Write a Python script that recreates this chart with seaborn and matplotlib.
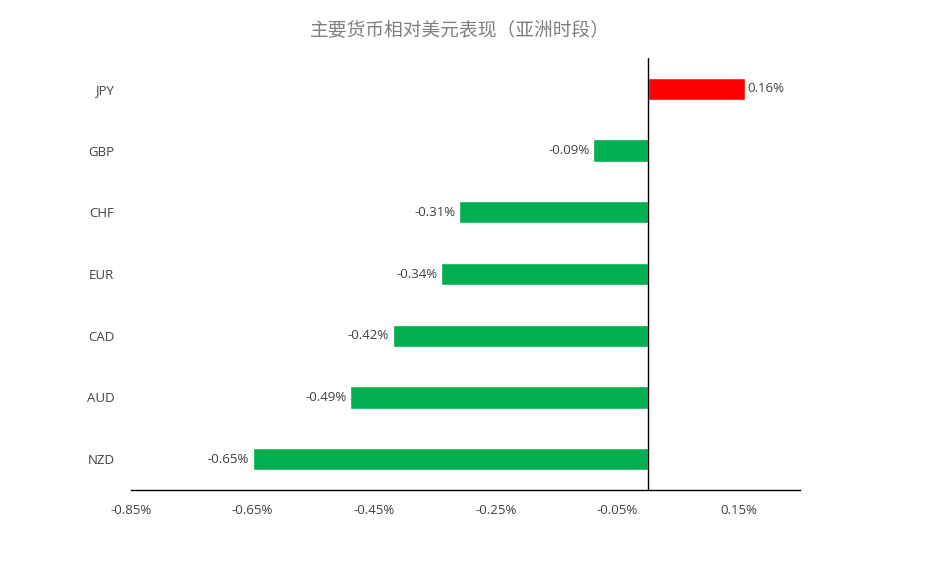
import matplotlib
matplotlib.use('Agg')
import matplotlib.pyplot as plt
import seaborn as sns
import pandas as pd

# currency performance vs USD (Asia session)
currencies = ['JPY', 'GBP', 'CHF', 'EUR', 'CAD', 'AUD', 'NZD']
changes = [0.16, -0.09, -0.31, -0.34, -0.42, -0.49, -0.65]
xticks = [-0.85, -0.65, -0.45, -0.25, -0.05, 0.15]
title = '主要货币相对美元表现（亚洲时段）'

sns.set_style('white')
plt.rcParams['font.family'] = ['Open Sans', 'Noto Sans CJK SC', 'DejaVu Sans']

df = pd.DataFrame({'cur': currencies, 'chg': changes})
df['sign'] = ['up' if v > 0 else 'down' for v in changes]

fig = plt.figure(figsize=(9.28, 5.69), dpi=100)
ax = fig.add_axes([131/928, 1-490/569, (800-131)/928, (490-58)/569])

sns.barplot(data=df, x='chg', y='cur', hue='sign', orient='h',
            palette={'up': '#FF0000', 'down': '#00B050'}, width=0.36,
            dodge=False, legend=False, ax=ax, saturation=1)

ax.set_xlim(-0.85, 0.25)
ax.set_ylim(6.5, -0.5)
ax.axvline(0, color='black', lw=1)

for i, v in enumerate(changes):
    lab = '%.2f%%' % v
    if v >= 0:
        ax.text(v + 0.003, i, lab, va='center', ha='left', fontsize=9.5, color='#404040')
    else:
        ax.text(v - 0.006, i, lab, va='center', ha='right', fontsize=9.5, color='#404040')

ax.set_xticks(xticks)
ax.set_xticklabels(['%.2f%%' % t for t in xticks], fontsize=9.5, color='#404040')
ax.tick_params(axis='x', length=0, pad=10)
ax.tick_params(axis='y', length=0, pad=12, labelsize=9.5, labelcolor='#404040')
ax.set_xlabel('')
ax.set_ylabel('')
for s in ['top', 'right', 'left']:
    ax.spines[s].set_visible(False)
ax.spines['bottom'].set_color('black')
ax.spines['bottom'].set_linewidth(1)

fig.text(460/928, 1-30/569, title, ha='center', va='center', fontsize=13.5,
         color='#7F7F7F', family=['Noto Sans CJK SC', 'DejaVu Sans'], weight='light')

fig.savefig('out.png', dpi=100)
